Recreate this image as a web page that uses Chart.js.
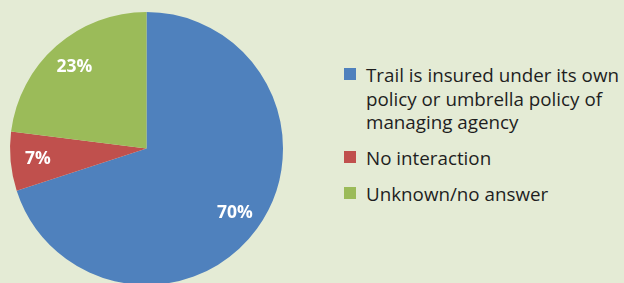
<!DOCTYPE html>
<html>
<head>
<meta charset="utf-8">
<script src="https://cdn.jsdelivr.net/npm/chart.js@4/dist/chart.umd.min.js"></script>
<style>
  html, body { margin: 0; padding: 0; }
  body { width: 624px; height: 283px; background: #e4ebd5; overflow: hidden; position: relative; font-family: "Open Sans", sans-serif; }
  #pieBox { position: absolute; left: 0; top: 0; width: 300px; height: 300px; }
  #legend { position: absolute; left: 344px; top: 64px; color: #1e1e1e; font-size: 18.8px; white-space: nowrap; }
  .item { position: relative; padding-left: 22px; line-height: 23.5px; margin-bottom: 12.6px; }
  .swatch { position: absolute; left: 0; top: 4px; width: 11.5px; height: 11.5px; }
</style>
</head>
<body>
<div id="pieBox"><canvas id="pieChart"></canvas></div>
<div id="legend"></div>
<script>
const categories = [
  ['Trail is insured under its own', 'policy or umbrella policy of', 'managing agency'],
  ['No interaction'],
  ['Unknown/no answer']
];
const values = [70, 7, 23];
const colors = ['#4f81bd', '#c0504d', '#9bbb59'];

// Prozentwerte in die Segmente schreiben
const sliceLabels = {
  id: 'sliceLabels',
  afterDatasetsDraw(chart) {
    const ctx = chart.ctx;
    const meta = chart.getDatasetMeta(0);
    ctx.save();
    ctx.fillStyle = '#ffffff';
    ctx.font = 'bold 17.5px "Open Sans", sans-serif';
    ctx.textAlign = 'center';
    ctx.textBaseline = 'middle';
    meta.data.forEach((arc, i) => {
      const mid = (arc.startAngle + arc.endAngle) / 2;
      const r = arc.outerRadius * 0.8;
      ctx.fillText(values[i] + '%', arc.x + Math.cos(mid) * r, arc.y + Math.sin(mid) * r);
    });
    ctx.restore();
  }
};

new Chart(document.getElementById('pieChart').getContext('2d'), {
  type: 'pie',
  data: {
    labels: categories.map(c => c.join(' ')),
    datasets: [{
      data: values,
      backgroundColor: colors,
      borderWidth: 0
    }]
  },
  options: {
    responsive: true,
    maintainAspectRatio: false,
    animation: false,
    layout: { padding: { left: 10, top: 12, right: 17, bottom: 15 } },
    plugins: {
      legend: { display: false },
      tooltip: { enabled: false }
    }
  },
  plugins: [sliceLabels]
});

// Legende als HTML
const legend = document.getElementById('legend');
categories.forEach((lines, i) => {
  const item = document.createElement('div');
  item.className = 'item';
  item.innerHTML = '<span class="swatch" style="background:' + colors[i] + '"></span>' + lines.join('<br>');
  legend.appendChild(item);
});
</script>
</body>
</html>
